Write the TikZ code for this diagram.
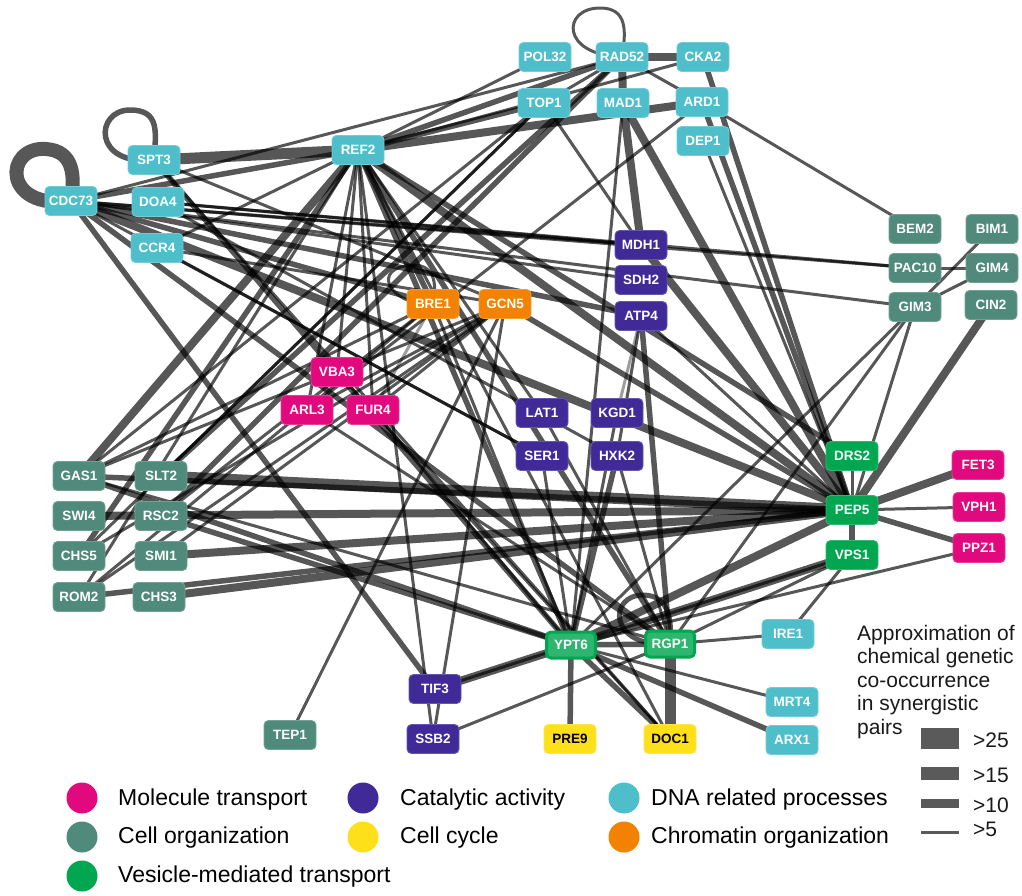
\documentclass[tikz,border=0pt]{standalone}
\usepackage{fontspec}
\setmainfont{Liberation Sans}
\usetikzlibrary{backgrounds}
\definecolor{cMol}{HTML}{E2097F}
\definecolor{cCat}{HTML}{3F2A98}
\definecolor{cDNA}{HTML}{4FBECB}
\definecolor{cOrg}{HTML}{4F8A7B}
\definecolor{cCyc}{HTML}{FDE01A}
\definecolor{cChr}{HTML}{F28200}
\definecolor{cVes}{HTML}{00A650}
\definecolor{barg}{HTML}{5A5A5A}
\tikzset{
  nd/.style={rounded corners=4.5pt, minimum width=52pt, minimum height=29pt, inner sep=0pt,
    text=white, line width=0.9pt, font=\fontsize{13.5}{14}\selectfont\bfseries},
  mol/.style={nd, fill=cMol, draw=cMol!80!white},
  cat/.style={nd, fill=cCat, draw=cCat!80!white},
  dna/.style={nd, fill=cDNA, draw=cDNA!80!white},
  org/.style={nd, fill=cOrg, draw=cOrg!80!white},
  cyc/.style={nd, fill=cCyc, draw=cCyc!80!white, text=black},
  chr/.style={nd, fill=cChr, draw=cChr!80!white},
  ves/.style={nd, fill=cVes, draw=cVes!80!white},
  vesb/.style={nd, fill=cVes!82!white, draw=cVes, line width=3pt,
    minimum width=49pt, minimum height=26pt},
  eg/.style={draw=black, draw opacity=0.66, line cap=butt},
  ewa/.style={eg, line width=3pt},
  ewb/.style={eg, line width=5.5pt},
  ewc/.style={eg, line width=8pt},
  ewd/.style={eg, line width=11pt},
  ewl/.style={draw=black, draw opacity=0.38, line width=3pt},
  legtxt/.style={anchor=west, inner sep=0pt, font=\fontsize{23}{26}\selectfont},
  wtxt/.style={anchor=base west, inner sep=0pt, font=\fontsize{21}{24}\selectfont, text=black!90},
}
\begin{document}
\begin{tikzpicture}[x=1pt,y=-1pt]
\useasboundingbox (0,0) rectangle (1022,895);
% ---------- nodes ----------
\node[dna] (POL32) at (545,57) {POL32};
\node[dna] (RAD52) at (622,57) {RAD52};
\node[dna] (CKA2) at (703,57) {CKA2};
\node[dna] (TOP1) at (544,103) {TOP1};
\node[dna] (MAD1) at (623,103) {MAD1};
\node[dna] (ARD1) at (702,102) {ARD1};
\node[dna] (DEP1) at (703,141) {DEP1};
\node[dna] (SPT3) at (154,160) {SPT3};
\node[dna] (REF2) at (358,150) {REF2};
\node[dna] (CDC73) at (71,201) {CDC73};
\node[dna] (DOA4) at (158,202) {DOA4};
\node[dna] (CCR4) at (157,248) {CCR4};
\node[cat] (MDH1) at (641,245) {MDH1};
\node[cat] (SDH2) at (641,280) {SDH2};
\node[cat] (ATP4) at (641,316) {ATP4};
\node[org] (BEM2) at (915,229) {BEM2};
\node[org] (BIM1) at (992,229) {BIM1};
\node[org] (PAC10) at (915,268) {PAC10};
\node[org] (GIM4) at (992,268) {GIM4};
\node[org] (GIM3) at (915,307) {GIM3};
\node[org] (CIN2) at (991,305) {CIN2};
\node[chr] (BRE1) at (433,304) {BRE1};
\node[chr] (GCN5) at (505,304) {GCN5};
\node[mol] (VBA3) at (337,372) {VBA3};
\node[mol] (ARL3) at (307,410) {ARL3};
\node[mol] (FUR4) at (373,410) {FUR4};
\node[cat] (LAT1) at (542,413) {LAT1};
\node[cat] (KGD1) at (617,413) {KGD1};
\node[cat] (SER1) at (542,456) {SER1};
\node[cat] (HXK2) at (617,456) {HXK2};
\node[org] (GAS1) at (79,476) {GAS1};
\node[org] (SLT2) at (161,476) {SLT2};
\node[org] (SWI4) at (79,516) {SWI4};
\node[org] (RSC2) at (161,516) {RSC2};
\node[org] (CHS5) at (79,556) {CHS5};
\node[org] (SMI1) at (161,556) {SMI1};
\node[org] (ROM2) at (79,597) {ROM2};
\node[org] (CHS3) at (159,597) {CHS3};
\node[ves] (DRS2) at (852,456) {DRS2};
\node[ves] (PEP5) at (852,510) {PEP5};
\node[ves] (VPS1) at (852,555) {VPS1};
\node[mol] (FET3) at (978,465) {FET3};
\node[mol] (VPH1) at (979,507) {VPH1};
\node[mol] (PPZ1) at (979,548) {PPZ1};
\node[dna] (IRE1) at (788,634) {IRE1};
\node[dna] (MRT4) at (792,702) {MRT4};
\node[dna] (ARX1) at (792,740) {ARX1};
\node[vesb] (YPT6) at (571,645) {YPT6};
\node[vesb] (RGP1) at (670,644) {RGP1};
\node[cat] (TIF3) at (435,689) {TIF3};
\node[cat] (SSB2) at (433,739) {SSB2};
\node[cyc] (PRE9) at (570,739) {PRE9};
\node[cyc] (DOC1) at (670,739) {DOC1};
\node[org] (TEP1) at (290,735) {TEP1};
% ---------- edges ----------
\begin{scope}[on background layer]
\foreach \a/\b in {RAD52/TOP1, CKA2/REF2, REF2/POL32, DEP1/PEP5, ARD1/BEM2, TOP1/MDH1,
  MAD1/YPT6, ARD1/ARL3, CDC73/RAD52, CCR4/REF2, REF2/VBA3, REF2/ARL3, REF2/FUR4,
  REF2/SSB2, REF2/LAT1, REF2/DOC1, ROM2/REF2, CDC73/PAC10, CDC73/GIM3, CDC73/MDH1,
  CDC73/SDH2, CDC73/SER1, DOA4/PAC10, DOA4/MDH1, DOA4/HXK2, SPT3/DOC1, SPT3/GCN5,
  CCR4/GCN5, CCR4/SER1, GAS1/RGP1, GAS1/BRE1, GAS1/GCN5, GAS1/TOP1, SLT2/TOP1,
  RSC2/BRE1, CHS5/TOP1, CHS5/GCN5, ROM2/BRE1, SMI1/GCN5, ROM2/GCN5, BRE1/YPT6,
  GCN5/SSB2, GCN5/TEP1, ARL3/GCN5, FUR4/GCN5, VBA3/DOC1, FUR4/YPT6, ARL3/RGP1,
  LAT1/RGP1, SER1/YPT6, KGD1/YPT6, HXK2/RGP1, ATP4/HXK2, ATP4/PEP5, PEP5/VPH1,
  DRS2/PEP5, GIM3/PEP5, GIM3/YPT6, GIM3/RGP1, BIM1/GIM3, GIM4/GIM3, PAC10/GIM4,
  PPZ1/YPT6, VPS1/YPT6, VPS1/RGP1, TIF3/YPT6, VPS1/IRE1, RGP1/IRE1, YPT6/MRT4,
  SSB2/RGP1, RAD52/ARD1}
  \draw[ewa] (\a.center) -- (\b.center);
\foreach \a/\b in {RAD52/SLT2, RAD52/RSC2, REF2/RAD52, REF2/TOP1, CDC73/REF2, REF2/YPT6,
  REF2/RGP1, REF2/BRE1, CHS5/REF2, CDC73/ATP4, CDC73/BRE1, CDC73/TIF3, CDC73/RGP1,
  SPT3/YPT6, GAS1/PEP5, ROM2/PEP5, GAS1/YPT6, RSC2/YPT6, GCN5/PEP5, REF2/DRS2,
  HXK2/YPT6, ATP4/RGP1, ARD1/PEP5, CKA2/PEP5, PEP5/PPZ1, PEP5/VPS1, YPT6/ARX1,
  YPT6/PRE9, YPT6/DOC1, YPT6/RGP1}
  \draw[ewb] (\a.center) -- (\b.center);
\foreach \a/\b in {RAD52/CKA2, REF2/ARD1, RAD52/MAD1, MAD1/MDH1, MAD1/PEP5, MDH1/PEP5,
  GAS1/REF2, REF2/PEP5, CDC73/PEP5, SWI4/PEP5, SMI1/PEP5, CHS3/PEP5, PEP5/FET3,
  CIN2/PEP5, PEP5/YPT6, TIF3/VPS1}
  \draw[ewc] (\a.center) -- (\b.center);
\foreach \a/\b in {SPT3/REF2, SLT2/PEP5, RGP1/DOC1}
  \draw[ewd] (\a.center) -- (\b.center);
\foreach \a/\b in {ATP4/KGD1, BRE1/FUR4}
  \draw[ewl] (\a.center) -- (\b.center);
% self loops
\draw[eg, line width=14pt] (CDC73.center) .. controls (2,210) and (4,146) .. (46,149)
  .. controls (74,151) and (75,176) .. (CDC73.center);
\draw[eg, line width=5.5pt] (SPT3.center) .. controls (92,166) and (95,110) .. (130,110)
  .. controls (160,110) and (156,132) .. (SPT3.center);
\draw[eg, line width=3pt] (RAD52.center) .. controls (560,55) and (562,8) .. (600,8)
  .. controls (628,8) and (626,32) .. (RAD52.center);
\draw[eg, line width=3pt] (BRE1.center) .. controls (392,306) and (372,272) .. (405,266)
  .. controls (432,261) and (438,278) .. (BRE1.center);
\draw[eg, line width=5pt] (RGP1.center) .. controls (608,648) and (608,595) .. (643,595)
  .. controls (670,595) and (672,622) .. (RGP1.center);
\end{scope}
% ---------- category legend ----------
\fill[cMol] (82,798) circle (15.5pt);
\fill[cOrg] (82,837) circle (15.5pt);
\fill[cVes] (82,876) circle (15.5pt);
\fill[cCat] (363,798) circle (15.5pt);
\fill[cCyc] (363,837) circle (15.5pt);
\fill[cDNA] (624,798) circle (15.5pt);
\fill[cChr] (624,837) circle (15.5pt);
\node[legtxt] (lg1) at (118,800) {Molecule transport};
\node[legtxt] (lg2) at (118,838) {Cell organization};
\node[legtxt] (lg3) at (118,877) {Vesicle-mediated transport};
\node[legtxt] (lg4) at (400,800) {Catalytic activity};
\node[legtxt] (lg5) at (400,838) {Cell cycle};
\node[legtxt] (lg6) at (651,800) {DNA related processes};
\node[legtxt] (lg7) at (651,838) {Chromatin organization};
% ---------- width legend ----------
\node[wtxt] (w1) at (857,640) {Approximation of};
\node[wtxt] (w2) at (857,663.5) {chemical genetic};
\node[wtxt] (w3) at (857,687) {co-occurrence};
\node[wtxt] (w4) at (857,710.5) {in synergistic};
\node[wtxt] (w5) at (857,734) {pairs};
\fill[barg] (921,728) rectangle (959,749);
\fill[barg] (921,767) rectangle (959,780);
\fill[barg] (921,799) rectangle (959,808);
\fill[barg] (921,830.5) rectangle (959,833.5);
\node[wtxt, anchor=west] (b1) at (973,740) {>25};
\node[wtxt, anchor=west] (b2) at (973,775) {>15};
\node[wtxt, anchor=west] (b3) at (973,805) {>10};
\node[wtxt, anchor=west] (b4) at (973,829) {>5};
\end{tikzpicture}
\end{document}
